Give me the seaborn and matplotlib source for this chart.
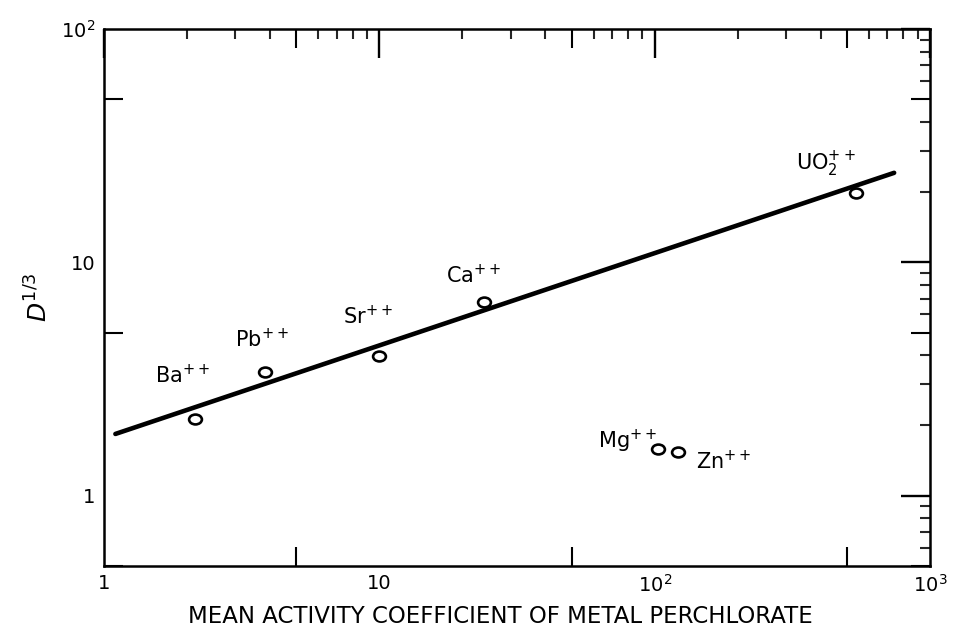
import numpy as np
import matplotlib
matplotlib.use("Agg")
import matplotlib.pyplot as plt
import seaborn as sns
from matplotlib.path import Path
from matplotlib.transforms import Affine2D
from matplotlib.ticker import (FixedLocator, FixedFormatter, LogLocator,
                               NullFormatter, NullLocator)

# Distribution data for the metal perchlorates
ions = ["Ba", "Pb", "Sr", "Ca", "UO2", "Mg", "Zn"]
ion_labels = [r"Ba$^{++}$", r"Pb$^{++}$", r"Sr$^{++}$", r"Ca$^{++}$",
              r"UO$_2^{++}$", r"Mg$^{++}$", r"Zn$^{++}$"]
activity_coeff = [2.14, 3.85, 10.0, 23.9, 538.0, 102.5, 121.0]
d_cube_root = [2.13, 3.39, 3.97, 6.75, 19.9, 1.59, 1.54]

# Straight-line fit (log-log) through the alkaline-earth points
fit_x = [1.1, 740.0]
fit_y = [1.84, 24.2]

# Tick values and labels
x_major = [1, 10, 100, 1000]
x_major_labels = ["1", "10", r"10$^2$", r"10$^3$"]
y_major = [1, 10, 100]
y_major_labels = ["1", "10", r"10$^2$"]
half_decades_x = [5, 50, 500]
half_decades_y = [0.5, 5, 50]

sns.set_theme(style="white")
plt.rcParams["font.family"] = ["DejaVu Sans"]
plt.rcParams["mathtext.fontset"] = "dejavusans"
plt.rcParams["mathtext.default"] = "regular"

fig = plt.figure(figsize=(9.54, 6.27), dpi=100)
ax = fig.add_axes([0.109, 0.0973, 0.866, 0.8564])
ax.set_xscale("log")
ax.set_yscale("log")

sns.lineplot(x=fit_x, y=fit_y, color="black", linewidth=3.3, ax=ax,
             zorder=2)

# slightly flattened open circles
ellipse = Path.unit_circle().transformed(Affine2D().scale(1.3, 1.0))
sns.scatterplot(x=activity_coeff, y=d_cube_root, marker=ellipse, s=85,
                facecolor="white", edgecolor="black", linewidth=1.9,
                ax=ax, zorder=3)

# ion labels, offset in pixels from their points
label_offsets = [(-40, 36), (-30, 25), (-36, 32), (-38, 19), (-60, 23),
                 (-60, 1), (18, -17)]
for xv, yv, lab, (dx, dy) in zip(activity_coeff, d_cube_root, ion_labels,
                                 label_offsets):
    ax.annotate(lab, (xv, yv), xytext=(dx, dy), textcoords="offset pixels",
                ha="left", va="baseline", fontsize=15, color="black")

ax.set_xlim(1, 1000)
ax.set_ylim(0.5, 100)

ax.xaxis.set_major_locator(FixedLocator(x_major))
ax.xaxis.set_major_formatter(FixedFormatter(x_major_labels))
ax.yaxis.set_major_locator(FixedLocator(y_major))
ax.yaxis.set_major_formatter(FixedFormatter(y_major_labels))
for axis in (ax.xaxis, ax.yaxis):
    axis.set_minor_locator(LogLocator(base=10, subs=(2, 3, 4, 6, 7, 8, 9),
                                      numticks=20))
    axis.set_minor_formatter(NullFormatter())

# tick lengths in points (1 pt = 1.39 px at 100 dpi)
ax.tick_params(which="major", direction="in", length=21, width=1.7,
               top=True, right=True, labelsize=14, pad=6, colors="black")
ax.tick_params(which="minor", direction="in", length=7.5, width=1.5,
               top=True, right=True)

# medium-length ticks at the half decades
for loc in ("bottom", "top"):
    sec = ax.secondary_xaxis(loc)
    sec.xaxis.set_major_locator(FixedLocator(half_decades_x))
    sec.xaxis.set_major_formatter(NullFormatter())
    sec.xaxis.set_minor_locator(NullLocator())
    sec.tick_params(which="major", direction="in", length=14, width=1.5,
                    colors="black")
    for s in sec.spines.values():
        s.set_visible(False)
for loc in ("left", "right"):
    sec = ax.secondary_yaxis(loc)
    sec.yaxis.set_major_locator(FixedLocator(half_decades_y))
    sec.yaxis.set_major_formatter(NullFormatter())
    sec.yaxis.set_minor_locator(NullLocator())
    sec.tick_params(which="major", direction="in", length=14, width=1.5,
                    colors="black")
    for s in sec.spines.values():
        s.set_visible(False)

for s in ax.spines.values():
    s.set_visible(True)
    s.set_color("black")
    s.set_linewidth(1.8)

ax.set_xlabel("MEAN ACTIVITY COEFFICIENT OF METAL PERCHLORATE",
              fontsize=16.5, color="black")
ax.xaxis.set_label_coords(0.48, -0.072)
ax.set_ylabel(r"$\mathit{D}^{1/3}$", fontsize=18, labelpad=6, color="black")

fig.savefig("out.png", dpi=100, facecolor="white")
